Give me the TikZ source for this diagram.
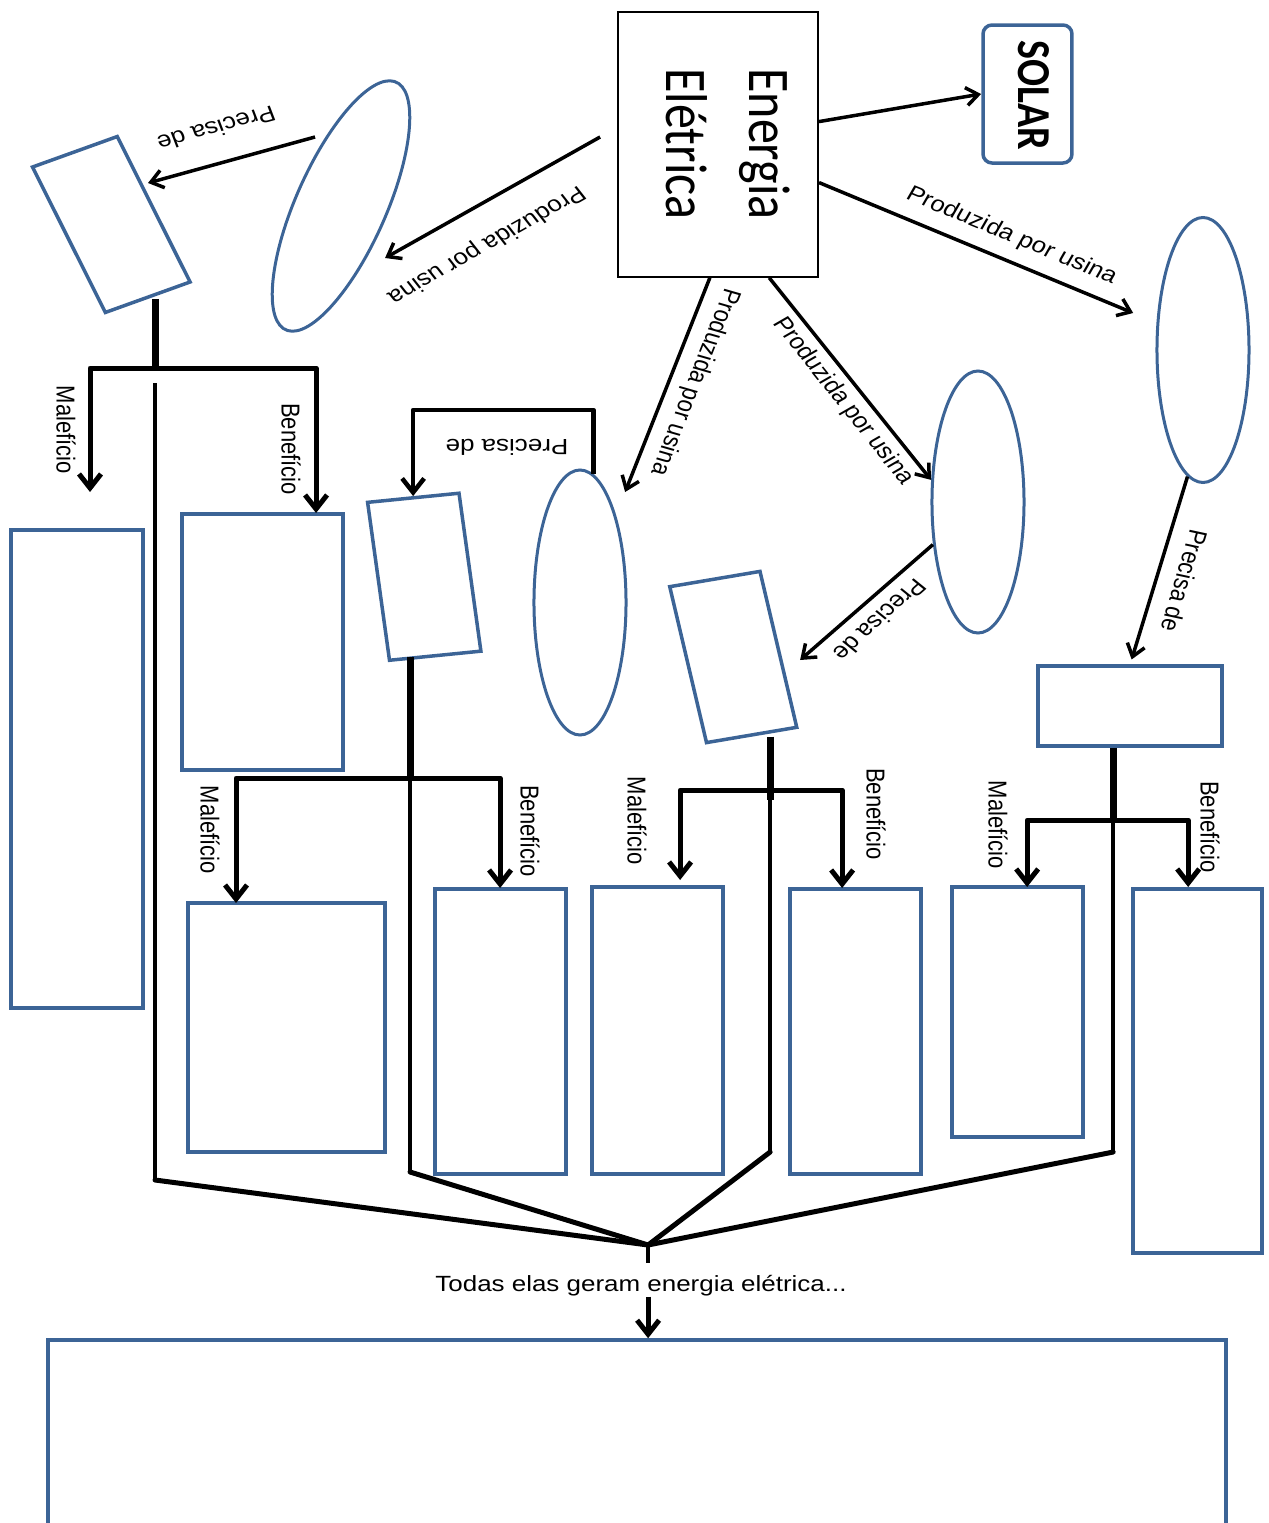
\documentclass[tikz,border=0pt]{standalone}
\usepackage{fontspec}
\usetikzlibrary{arrows.meta,shapes.geometric,calc}
\newfontfamily\arialf{Liberation Sans}
\newfontfamily\calf{Carlito}
\definecolor{bblue}{HTML}{3C6496}
\tikzset{
  bbox/.style={draw=bblue, line width=3.5pt, rectangle, inner sep=0pt},
  bell/.style={draw=bblue, line width=3pt, ellipse, inner sep=0pt, minimum width=78pt, minimum height=265pt},
  con/.style={line width=3.5pt, -{Straight Barb[length=12pt,width=18pt]}},
  stem/.style={line width=7pt},
  brk/.style={line width=5pt, line join=round, -{Straight Barb[length=14pt,width=22pt]}},
  coll/.style={line width=4pt},
  conv/.style={line width=5pt, line cap=round},
  lab/.style={font=\arialf\fontsize{22}{26}\selectfont, inner sep=0pt},
}
\begin{document}
\begin{tikzpicture}[x=0.847458pt, y=-1pt]
\begin{scope}[xscale=1.18, transform shape]
\useasboundingbox (0,0) rectangle (1269,1523);
\clip (0,0) rectangle (1269,1523);

% main node
\node[draw=black, line width=1.5pt, minimum width=169.5pt, minimum height=265pt, inner sep=0pt] (en) at (718,144.5) {};
\node[rotate=-90, align=left, font=\calf\fontsize{50}{71}\selectfont, inner sep=0pt] (entxt) at (728,144) {Energia\\Elétrica};

\node[bbox, rounded corners=9pt, minimum width=75.4pt, minimum height=138pt] (solar) at (1027.5,94) {};
\node[rotate=-90, font=\calf\bfseries\fontsize{40}{48}\selectfont, inner sep=0pt] (solartxt) at (1034,95) {SOLAR};

% ellipses
\node[bell, rotate=-20] (ellL) at (341,206) {};
\node[bell] (ellR) at (1203,350) {};
\node[bell, minimum height=262pt] (ellM2) at (978,502) {};
\node[bell] (ellM) at (580,602.5) {};

% rotated rectangles
\node[bbox, rotate=23, minimum width=78pt, minimum height=158pt] (rectL) at (111.3,224.5) {};
\node[bbox, rotate=6.7, minimum width=78pt, minimum height=159pt] (rectM) at (424.25,576.75) {};
\node[bbox, rotate=11.3, minimum width=78pt, minimum height=159pt] (rectR2) at (733.25,657) {};
\node[bbox, minimum width=156pt, minimum height=80pt] (rectR) at (1130,706) {};

% result boxes
\node[bbox, minimum width=111.9pt, minimum height=478pt] (b1) at (77,769) {};
\node[bbox, minimum width=136.4pt, minimum height=256pt] (b2) at (262.5,642) {};
\node[bbox, minimum width=167pt, minimum height=249pt] (b3) at (286.5,1027.5) {};
\node[bbox, minimum width=111pt, minimum height=285pt] (b4) at (500.5,1031.5) {};
\node[bbox, minimum width=111pt, minimum height=287pt] (b5) at (657.5,1030.5) {};
\node[bbox, minimum width=111pt, minimum height=285pt] (b6) at (855.5,1031.5) {};
\node[bbox, minimum width=111pt, minimum height=250pt] (b7) at (1017.5,1012) {};
\node[bbox, minimum width=109.3pt, minimum height=364pt] (b8) at (1197.5,1071) {};
\node[bbox, minimum width=998.3pt, minimum height=220pt] (bottom) at (637,1450) {};

% free coordinates
\coordinate (c1) at (1133,313);
\coordinate (c2) at (625,492);
\coordinate (c3) at (600,137);
\coordinate (c4) at (385,258);
\coordinate (c5) at (315,137);
\coordinate (c6) at (148,183);
\coordinate (c8) at (800,660);
\coordinate (k7) at (500,410);

% connectors from Energia
\draw[con] (en.15) -- (solar.west);
\draw[con] (en.-24) -- node[lab, pos=0.574, rotate=-26, anchor=south, inner sep=11.7pt] (l2) {Produzida por usina} (c1);
\draw[con] (en.-72) -- node[lab, pos=0.562, rotate=-55.8, anchor=north, inner sep=5.6pt] (l3) {Produzida por usina} (ellM2.151);
\draw[con] (en.-93) -- node[lab, pos=0.455, rotate=-108.7, anchor=south, inner sep=8.7pt] (l4) {Produzida por usina} (c2);
\draw[con] (c3) -- node[lab, pos=0.64, rotate=-146.4, anchor=south, inner sep=24pt] (l5) {Produzida por usina} (c4);

% Precisa de
\draw[con] (c5) -- node[lab, pos=0.516, rotate=-162, anchor=north, inner sep=24pt] (l6) {Precisa de} (c6);
\draw[brk, line width=4.5pt] (ellM.85) |- (k7) -| (rectM.north);
\node[lab, rotate=180] (l7) at (507,447) {Precisa de};
\draw[con] (ellM2.228) -- node[lab, pos=0.53, rotate=-133.7, anchor=south, inner sep=10.8pt] (l8) {Precisa de} (c8);
\draw[con, shorten >=5pt] (ellR.264) -- node[lab, pos=0.526, rotate=-104.2, anchor=south, inner sep=13.7pt] (l9) {Precisa de} (rectR.north);

% branch units
\coordinate (j1) at (155,368); \coordinate (t1) at (90,492); \coordinate (t2) at (316,513);
\coordinate (k1) at (155,383); \coordinate (k1b) at (155,1180);
\coordinate (j2) at (410,778); \coordinate (t3) at (236,903); \coordinate (t4) at (500,888);
\coordinate (k2b) at (410,1172);
\coordinate (j3) at (770,790); \coordinate (t5) at (680,880); \coordinate (t6) at (842,888);
\coordinate (k3b) at (770,1152);
\coordinate (j4) at (1113,820); \coordinate (t7) at (1027,887); \coordinate (t8) at (1188,887);
\coordinate (k4b) at (1113,1152);
\coordinate (hub) at (648,1245);

\draw[stem] (rectL.south -| j1) -- (j1);
\draw[brk] (j1) -| (t1);
\draw[brk] (j1) -| (t2);
\draw[coll] (k1) -- (k1b);

\draw[stem] (rectM.south -| j2) -- (j2);
\draw[brk] (j2) -| (t3);
\draw[brk] (j2) -| (t4);
\draw[coll] (j2) -- (k2b);

\draw[stem] (rectR2.south -| j3) -- ([yshift=-10pt]j3);
\draw[brk] (j3) -| (t5);
\draw[brk] (j3) -| (t6);
\draw[coll] (j3) -- (k3b);

\draw[stem] (rectR.south -| j4) -- (j4);
\draw[brk] (j4) -| (t7);
\draw[brk] (j4) -| (t8);
\draw[coll] (j4) -- (k4b);

% labels on branches
\node[lab, rotate=-90] (m1) at (66,430) {Malefício};
\node[lab, rotate=-90] (n1) at (291,449) {Benefício};
\node[lab, rotate=-90] (m2) at (210,830) {Malefício};
\node[lab, rotate=-90] (n2) at (530,831) {Benefício};
\node[lab, rotate=-90] (m3) at (637,821) {Malefício};
\node[lab, rotate=-90] (n3) at (876,814) {Benefício};
\node[lab, rotate=-90] (m4) at (998,825) {Malefício};
\node[lab, rotate=-90] (n4) at (1210,827) {Benefício};

% convergence
\draw[conv] (k1b) -- (hub);
\draw[conv] (k2b) -- (hub);
\draw[conv] (k3b) -- (hub);
\draw[conv] (k4b) -- (hub);
\node[lab] (todas) at (641,1286) {Todas elas geram energia elétrica...};
\draw[line width=4pt, shorten >=12pt] (hub) -- (todas.north -| hub);
\draw[brk] (todas.south -| hub) -- (bottom.north -| hub);
\end{scope}
\end{tikzpicture}
\end{document}
